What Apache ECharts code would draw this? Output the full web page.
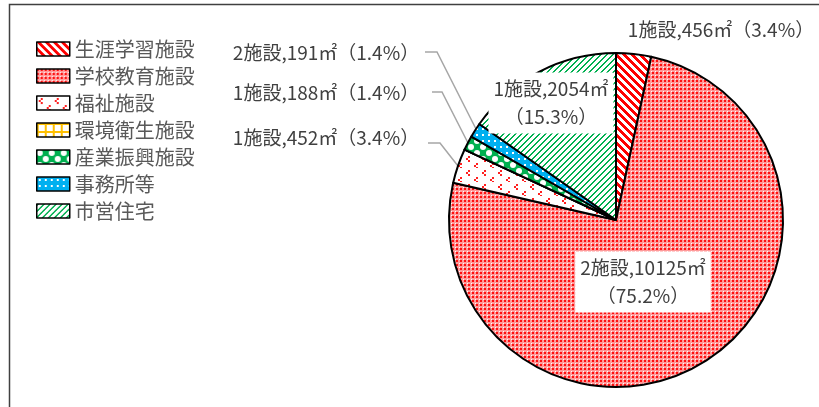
<!DOCTYPE html>
<html><head><meta charset="utf-8">
<script src="https://cdn.jsdelivr.net/npm/echarts@6/dist/echarts.min.js"></script>
<style>html,body{margin:0;padding:0;background:#fff}#c{width:819px;height:407px}</style>
</head><body><div id="c"></div>
<script>
const categories = ['生涯学習施設','学校教育施設','福祉施設','環境衛生施設','産業振興施設','事務所等','市営住宅'];
const areas = [456, 10125, 452, 0, 188, 191, 2054];
const facilities = [1, 2, 1, 0, 1, 2, 1];
const percents = ['3.4', '75.2', '3.4', '0', '1.4', '1.4', '15.3'];

function tile(w, h, fn) {
  const c = document.createElement('canvas');
  c.width = w; c.height = h;
  const ctx = c.getContext('2d');
  ctx.fillStyle = '#fff'; ctx.fillRect(0, 0, w, h);
  fn(ctx, w, h);
  return { image: c, repeat: 'repeat' };
}
function px(ctx, w, h, color, test) {
  ctx.fillStyle = color;
  for (let y = 0; y < h; y++) for (let x = 0; x < w; x++) if (test(x, y)) ctx.fillRect(x, y, 1, 1);
}
const patterns = [
  tile(8, 8, (ctx, w, h) => px(ctx, w, h, '#FF0000', (x, y) => ((x - y + 16) % 8) < 4)),
  tile(4, 4, (ctx, w, h) => { px(ctx, w, h, '#FF9A9A', (x, y) => x < 3 || y < 3); px(ctx, w, h, '#FF1010', (x, y) => x < 2 && y < 2); }),
  tile(16, 14, (ctx) => {
    ctx.fillStyle = '#FF2020';
    [[2,2],[10,9]].forEach(([x, y]) => { ctx.fillRect(x+2, y, 2, 2); ctx.fillRect(x, y+2, 2, 2); ctx.fillRect(x+2, y+4, 2, 2); });
  }),
  tile(8, 8, (ctx, w, h) => px(ctx, w, h, '#FFC000', (x, y) => x < 2 || y < 2)),
  tile(12, 12, (ctx, w, h) => {
    ctx.fillStyle = '#00B050'; ctx.fillRect(0, 0, w, h);
    ctx.fillStyle = '#fff';
    [[3,3],[9,9],[-3,9],[9,-3],[15,3],[3,15],[15,15],[-3,-3]].forEach(([x, y]) => { ctx.beginPath(); ctx.arc(x, y, 3, 0, Math.PI * 2); ctx.fill(); });
  }),
  tile(6, 6, (ctx, w, h) => { ctx.fillStyle = '#00B0F0'; ctx.fillRect(0, 0, w, h); ctx.fillStyle = '#fff'; ctx.fillRect(2, 2, 2, 2); }),
  tile(6, 6, (ctx, w, h) => px(ctx, w, h, '#00B050', (x, y) => ((x + y) % 6) < 2))
];

const insideIdx = [1, 6];
const labelPos = {
  0: { x: 721, y: 30 },
  1: { x: 643, y: 282 },
  2: { x: 326, y: 138, line: [[458, 166], [440, 143], [428, 143]] },
  4: { x: 326, y: 93, line: [[468, 143], [442, 92], [432, 92]] },
  5: { x: 326, y: 53, line: [[476, 129], [437, 52], [425, 52]] },
  6: { x: 551, y: 103 }
};

const data = categories.map((name, i) => {
  const inside = insideIdx.includes(i);
  return {
    name, value: areas[i],
    itemStyle: { color: patterns[i] },
    label: {
      show: areas[i] > 0,
      backgroundColor: inside ? '#fff' : 'transparent',
      padding: inside ? [3, 5, 2, 5] : 0,
      lineHeight: 28
    },
    labelLine: { show: !!(labelPos[i] && labelPos[i].line) }
  };
});

const chart = echarts.init(document.getElementById('c'), null, { renderer: 'canvas' });
chart.setOption({
  animation: false,
  backgroundColor: '#fff',
  textStyle: { fontFamily: '"Noto Sans CJK JP", sans-serif' },
  graphic: [{
    type: 'rect', shape: { x: 9.5, y: 4.5, width: 900, height: 500 },
    style: { fill: 'none', stroke: '#404040', lineWidth: 1.5 }, silent: true
  }],
  legend: {
    orient: 'vertical', left: 31, top: 34,
    itemWidth: 33, itemHeight: 14, itemGap: 7,
    icon: 'rect',
    textStyle: { fontSize: 20, color: '#595959', fontFamily: '"Noto Sans CJK JP", sans-serif' },
    itemStyle: { borderColor: '#000', borderWidth: 1.5 },
    data: categories
  },
  series: [{
    type: 'pie',
    center: [616, 220], radius: 167,
    startAngle: 90, clockwise: true,
    avoidLabelOverlap: false,
    itemStyle: { borderColor: '#000', borderWidth: 2 },
    label: {
      position: 'outside',
      fontSize: 19, color: '#404040',
      fontFamily: '"Noto Sans CJK JP", sans-serif',
      formatter: (p) => {
        const i = p.dataIndex;
        const head = facilities[i] + '施設,' + areas[i] + '㎡';
        const tail = '（' + percents[i] + '%）';
        return insideIdx.includes(i) ? head + '\n' + tail : head + tail;
      }
    },
    labelLine: { lineStyle: { color: '#A6A6A6', width: 1.5 } },
    labelLayout: (p) => {
      const lp = labelPos[p.dataIndex];
      if (!lp) return {};
      const o = { x: lp.x, y: lp.y, align: 'center', verticalAlign: 'middle' };
      if (lp.line) o.labelLinePoints = lp.line;
      return o;
    },
    emphasis: { disabled: true },
    data
  }]
});
</script></body></html>
